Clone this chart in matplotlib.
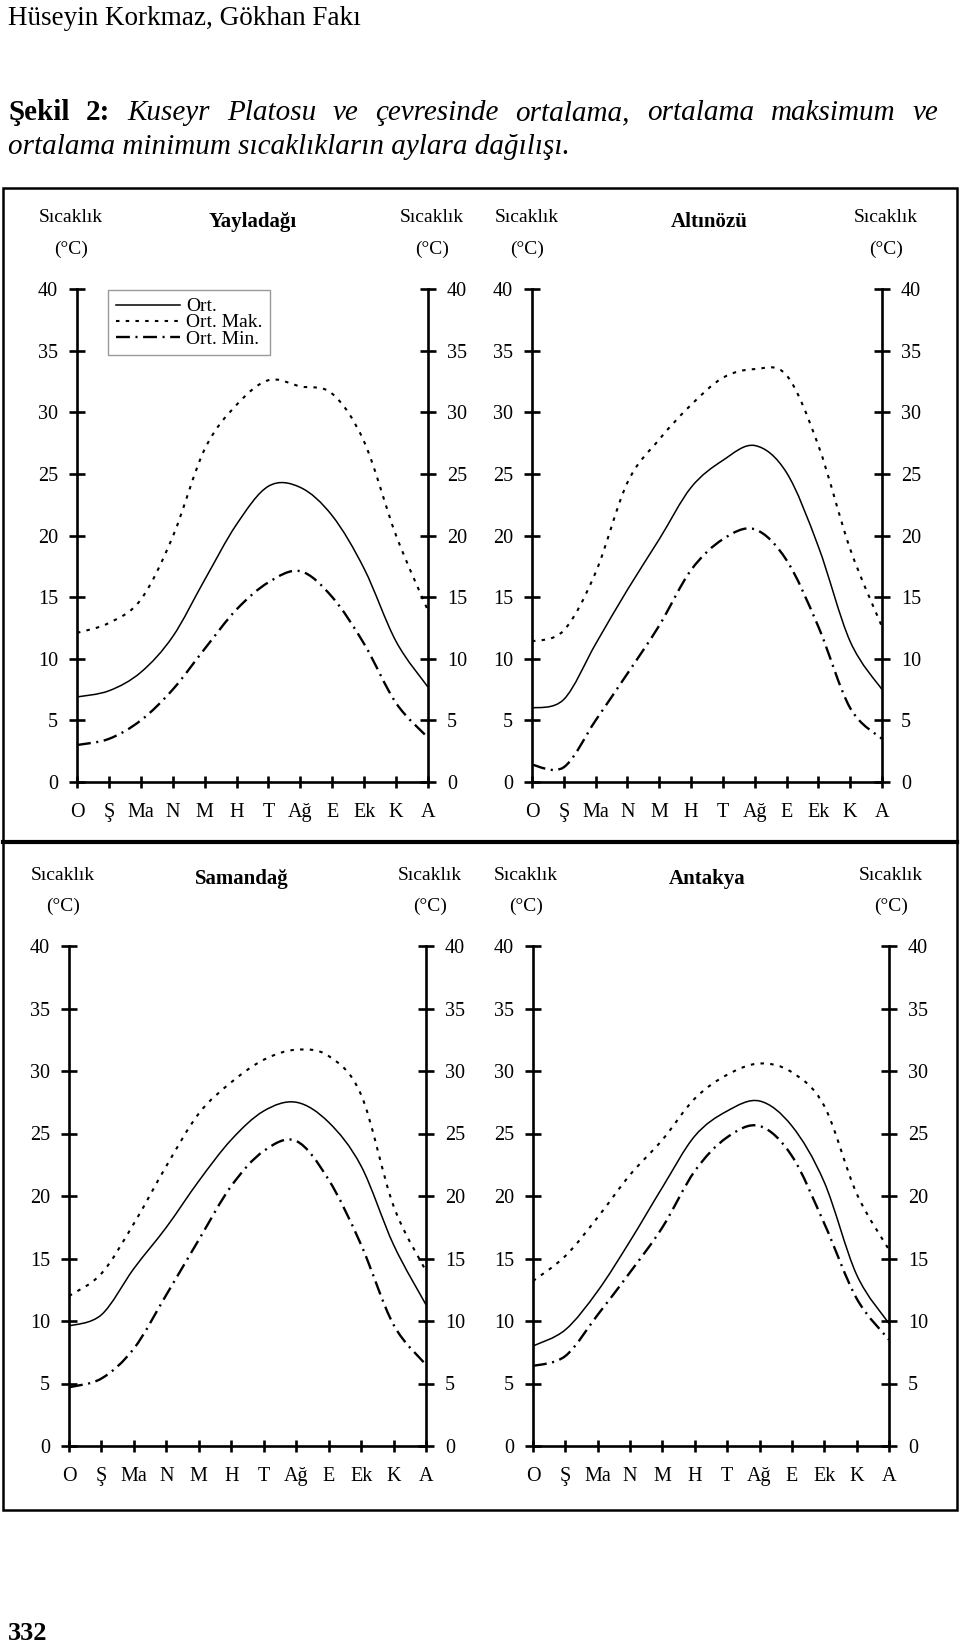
import numpy as np
import matplotlib.pyplot as plt
from matplotlib.path import Path
from matplotlib.patches import PathPatch, Rectangle
from matplotlib.lines import Line2D

plt.rcParams['font.family'] = ['Liberation Serif', 'DejaVu Serif']
plt.rcParams['lines.scale_dashes'] = False

## month labels
months = ['O', 'Ş', 'Ma', 'N', 'M', 'H', 'T', 'Ağ', 'E', 'Ek', 'K', 'A']

## monthly temperatures (C)
yay_ort = [6.9, 7.4, 8.9, 11.8, 16.4, 20.9, 24.0, 23.9, 21.6, 17.3, 11.4, 7.7]
yay_mak = [12.1, 12.9, 14.8, 19.9, 27.0, 30.6, 32.6, 32.1, 31.5, 27.6, 20.0, 13.9]
yay_min = [3.0, 3.5, 5.0, 7.5, 10.8, 14.0, 16.2, 17.1, 15.0, 11.2, 6.4, 3.6]

alt_ort = [6.0, 6.7, 11.2, 15.6, 19.7, 23.9, 26.1, 27.3, 25.1, 19.1, 11.4, 7.5]
alt_mak = [11.4, 12.3, 17.0, 24.3, 27.8, 30.6, 32.8, 33.5, 33.0, 27.3, 18.9, 12.6]
alt_min = [1.4, 1.2, 5.0, 8.8, 12.7, 17.2, 19.7, 20.5, 18.0, 12.6, 6.0, 3.5]

sam_ort = [9.6, 10.5, 14.2, 17.5, 21.2, 24.5, 26.8, 27.5, 25.9, 22.4, 16.1, 11.3]
sam_mak = [12.0, 13.8, 17.8, 22.4, 26.6, 29.1, 30.9, 31.7, 31.2, 28.1, 19.2, 14.0]
sam_min = [4.7, 5.4, 7.8, 12.1, 16.5, 20.8, 23.6, 24.4, 21.3, 16.1, 9.7, 6.5]

ant_ort = [8.0, 9.3, 12.4, 16.4, 20.7, 24.8, 26.8, 27.6, 25.6, 21.1, 13.7, 9.8]
ant_mak = [13.2, 15.2, 18.3, 21.7, 24.5, 27.8, 29.7, 30.6, 29.9, 27.2, 20.2, 15.7]
ant_min = [6.4, 7.2, 10.5, 13.9, 17.5, 22.0, 24.7, 25.6, 23.2, 17.8, 11.8, 8.5]

W, H = 960, 1643
fig = plt.figure(figsize=(W / 100, H / 100), dpi=100)

def fx(px):
    return px / W

def fy(py):
    return 1 - py / H

def smooth_path(x, y):
    # bezier through the monthly points (like a smoothed spreadsheet line)
    x = np.asarray(x, float)
    y = np.asarray(y, float)
    n = len(x)
    verts = [(x[0], y[0])]
    codes = [Path.MOVETO]
    for i in range(n - 1):
        p0 = max(i - 1, 0)
        p3 = min(i + 2, n - 1)
        c1 = (x[i] + (x[i + 1] - x[p0]) / 6, y[i] + (y[i + 1] - y[p0]) / 6)
        c2 = (x[i + 1] - (x[p3] - x[i]) / 6, y[i + 1] - (y[p3] - y[i]) / 6)
        verts += [c1, c2, (x[i + 1], y[i + 1])]
        codes += [Path.CURVE4] * 3
    return Path(verts, codes)

ort_style = dict(linestyle='-', linewidth=1.1)
mak_style = dict(linestyle=(0, (2.5, 4.5)), linewidth=1.5)
min_style = dict(linestyle=(0, (10, 4, 1.5, 4)), linewidth=1.7)

def panel(x0, x1, ytop, ybot, title, title_x, ort, mak, mn, dl=-6, dr=4):
    ax = fig.add_axes([fx(x0), fy(ybot), (x1 - x0) / W, (ybot - ytop) / H])
    ax.patch.set_visible(False)
    xs = np.arange(12)
    for vals, st in ((mak, mak_style), (ort, ort_style), (mn, min_style)):
        ax.add_patch(PathPatch(smooth_path(xs, vals), fill=False,
                               edgecolor='black', capstyle='butt', **st))
    ax.set_xlim(0, 11)
    ax.set_ylim(0, 40)
    ax.spines['top'].set_visible(False)
    for s in ('left', 'right', 'bottom'):
        ax.spines[s].set_linewidth(1.9)
    ax.set_xticks(xs)
    ax.set_xticklabels(months)
    ax.set_yticks(range(0, 41, 5))
    ax.tick_params(axis='y', direction='inout', length=11.5, width=1.9,
                   left=True, right=True, labelleft=True, labelright=True,
                   labelsize=14.5, pad=8)
    ax.tick_params(axis='x', direction='inout', length=8.6, width=1.9,
                   labelsize=14.5, pad=11)
    # axis headers and station name
    for cx in (x0 + dl, x1 + dr):
        fig.text(fx(cx), fy(ytop - 71), 'Sıcaklık', ha='center', va='center', fontsize=14)
        fig.text(fx(cx), fy(ytop - 40), '(°C)', ha='center', va='center', fontsize=14)
    fig.text(fx(title_x), fy(ytop - 67), title, ha='center', va='center',
             fontsize=15, fontweight='bold')
    return ax

ax1 = panel(77, 428, 289, 782, 'Yayladağı', 253, yay_ort, yay_mak, yay_min)
ax2 = panel(532, 882, 289, 782, 'Altınözü', 709, alt_ort, alt_mak, alt_min, dl=-5)
ax3 = panel(69, 426, 946, 1446, 'Samandağ', 242, sam_ort, sam_mak, sam_min)
ax4 = panel(533, 889, 946, 1446, 'Antakya', 707, ant_ort, ant_mak, ant_min, dl=-7, dr=2)

## legend in the first panel
handles = [Line2D([], [], color='black', **ort_style),
           Line2D([], [], color='black', **mak_style),
           Line2D([], [], color='black', **min_style)]
leg = ax1.legend(handles, ['Ort.', 'Ort. Mak.', 'Ort. Min.'], loc='upper left',
                 bbox_to_anchor=(fx(108), fy(290)), bbox_transform=fig.transFigure,
                 borderaxespad=0, fontsize=14, handlelength=3.3, handletextpad=0.3,
                 labelspacing=-0.08, borderpad=0.4, fancybox=False, framealpha=1)
leg.get_frame().set_edgecolor('#999999')
leg.get_frame().set_linewidth(1.0)

## outer frame and divider
fig.add_artist(Rectangle((fx(3), fy(1510)), (957 - 3) / W, (1510 - 188) / H,
                         transform=fig.transFigure, fill=False, linewidth=1.8,
                         edgecolor='black'))
fig.add_artist(Line2D([fx(3), fx(957)], [fy(842), fy(842)], transform=fig.transFigure,
                      color='black', linewidth=3))

## page text
fig.text(fx(8), fy(25), 'Hüseyin Korkmaz, Gökhan Fakı', ha='left', va='baseline', fontsize=19.5)
fig.text(fx(8), fy(1640), '332', ha='left', va='baseline', fontsize=19, fontweight='bold')

# justified first caption line
words = [('Şekil', 'bold', 'normal'), ('2:', 'bold', 'normal')]
for w in ['Kuseyr', 'Platosu', 've', 'çevresinde', 'ortalama,', 'ortalama', 'maksimum', 've']:
    words.append((w, 'normal', 'italic'))
texts = [fig.text(0, fy(120), w, ha='left', va='baseline', fontsize=21,
                  fontweight=wt, fontstyle=st) for w, wt, st in words]
renderer = fig.canvas.get_renderer()
widths = [t.get_window_extent(renderer).width for t in texts]
gap = (938 - 8 - sum(widths)) / (len(texts) - 1)
xpos = 8
for t, w in zip(texts, widths):
    t.set_x(fx(xpos))
    xpos += w + gap
fig.text(fx(8), fy(154), 'ortalama minimum sıcaklıkların aylara dağılışı.', ha='left',
         va='baseline', fontsize=21, fontstyle='italic')

fig.savefig('out.png', dpi=100)
